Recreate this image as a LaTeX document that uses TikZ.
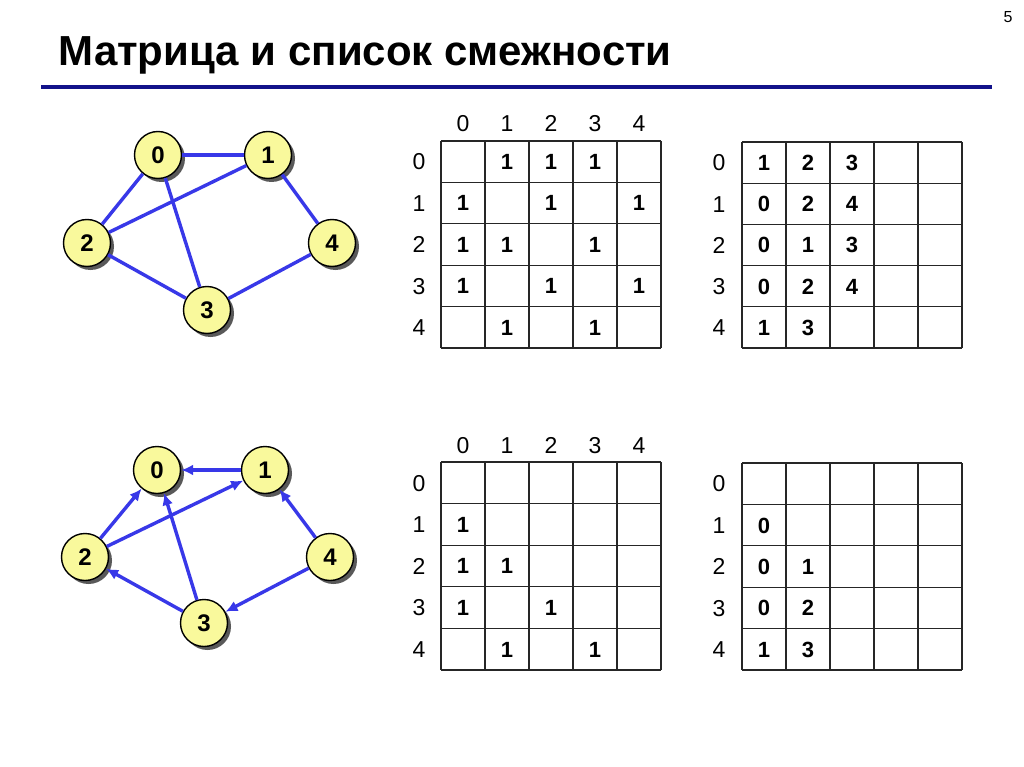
\documentclass[tikz,border=0pt]{standalone}
\usepackage{fontspec}
\setmainfont{Liberation Sans}
\usepackage{xcolor}
\usepackage{tikz}
\usetikzlibrary{arrows.meta,shadows}

\definecolor{vyellow}{HTML}{F9F99C}
\definecolor{eblue}{HTML}{3838E8}
\definecolor{tline}{HTML}{12128A}

\begin{document}
\begin{tikzpicture}[x=1pt, y=-1pt,
  vert/.style={circle, draw, line width=1.4pt, fill=vyellow, minimum size=47pt, inner sep=0pt,
               font=\fontsize{24}{24}\selectfont\bfseries, text height=17.2pt, text depth=0pt,
               drop shadow={shadow xshift=3.5pt, shadow yshift=-3.5pt, fill=black!65, opacity=1}},
  edge/.style={line width=3.4pt, draw=eblue},
  arc/.style={edge, -{Latex[length=12pt, width=11pt]}},
  idx/.style={font=\fontsize{23}{23}\selectfont, text height=16.5pt, text depth=0pt},
  val/.style={font=\fontsize{22}{22}\selectfont\bfseries, text height=15.8pt, text depth=0pt},
  cell/.style={line width=1.2pt, draw=black!85}
]
\useasboundingbox[fill=white] (0,0) rectangle (1024,767);

% header
\node[anchor=base west, font=\fontsize{42}{42}\selectfont\bfseries] (title) at (55,66) {Матрица и список смежности};
\node[anchor=base east, font=\fontsize{16}{16}\selectfont] (pagenum) at (1016,23) {5};
\draw[line width=4pt, draw=tline] (41,87) -- (992,87);

% undirected graph
\node[vert] (a0) at (158,155) {0};
\node[vert] (a1) at (268,155) {1};
\node[vert] (a2) at (87,243) {2};
\node[vert] (a4) at (332,243) {4};
\node[vert] (a3) at (207,310) {3};
\draw[edge] (a0) -- (a1);
\draw[edge] (a0) -- (a2);
\draw[edge] (a0) -- (a3);
\draw[edge] (a1) -- (a2);
\draw[edge] (a1) -- (a4);
\draw[edge] (a2) -- (a3);
\draw[edge] (a3) -- (a4);

% directed graph
\node[vert] (b0) at (157,470) {0};
\node[vert] (b1) at (265,470) {1};
\node[vert] (b2) at (85,557) {2};
\node[vert] (b4) at (330,557) {4};
\node[vert] (b3) at (204,623) {3};
\draw[arc] (b1) -- (b0);
\draw[arc] (b2) -- (b0);
\draw[arc] (b2) -- (b1);
\draw[arc] (b3) -- (b0);
\draw[arc] (b3) -- (b2);
\draw[arc] (b4) -- (b1);
\draw[arc] (b4) -- (b3);

% adjacency matrix, undirected
\begin{scope}[shift={(441,141)}]
  \foreach \k in {0,...,5} {
    \draw[cell] (\k*44,0) -- (\k*44,207);
    \draw[cell] (0,\k*41.4) -- (220,\k*41.4);
  }
  \foreach \k in {0,...,4} {
    \node[idx] (amr\k) at (-22,\k*41.4+20.7) {\k};
    \node[idx] (amc\k) at (\k*44+22,-18) {\k};
  }
  \foreach \r/\c in {0/1,0/2,0/3,1/0,1/2,1/4,2/0,2/1,2/3,3/0,3/2,3/4,4/1,4/3}
    \node[val] (am-\r-\c) at (\c*44+22,\r*41.4+20.7) {1};
\end{scope}

% adjacency list, undirected
\begin{scope}[shift={(742,142)}]
  \foreach \k in {0,...,5} {
    \draw[cell] (\k*44,0) -- (\k*44,206);
    \draw[cell] (0,\k*41.2) -- (220,\k*41.2);
  }
  \foreach \k in {0,...,4}
    \node[idx] (alr\k) at (-23,\k*41.2+20.6) {\k};
  \foreach \r/\c/\v in {0/0/1,0/1/2,0/2/3,1/0/0,1/1/2,1/2/4,2/0/0,2/1/1,2/2/3,
                        3/0/0,3/1/2,3/2/4,4/0/1,4/1/3}
    \node[val] (al-\r-\c) at (\c*44+22,\r*41.2+20.6) {\v};
\end{scope}

% adjacency matrix, directed
\begin{scope}[shift={(441,462)}]
  \foreach \k in {0,...,5} {
    \draw[cell] (\k*44,0) -- (\k*44,208);
    \draw[cell] (0,\k*41.6) -- (220,\k*41.6);
  }
  \foreach \k in {0,...,4} {
    \node[idx] (bmr\k) at (-22,\k*41.6+20.8) {\k};
    \node[idx] (bmc\k) at (\k*44+22,-17) {\k};
  }
  \foreach \r/\c in {1/0,2/0,2/1,3/0,3/2,4/1,4/3}
    \node[val] (bm-\r-\c) at (\c*44+22,\r*41.6+20.8) {1};
\end{scope}

% adjacency list, directed
\begin{scope}[shift={(742,463)}]
  \foreach \k in {0,...,5} {
    \draw[cell] (\k*44,0) -- (\k*44,207);
    \draw[cell] (0,\k*41.4) -- (220,\k*41.4);
  }
  \foreach \k in {0,...,4}
    \node[idx] (blr\k) at (-23,\k*41.4+20.7) {\k};
  \foreach \r/\c/\v in {1/0/0,2/0/0,2/1/1,3/0/0,3/1/2,4/0/1,4/1/3}
    \node[val] (bl-\r-\c) at (\c*44+22,\r*41.4+20.7) {\v};
\end{scope}
\end{tikzpicture}
\end{document}
